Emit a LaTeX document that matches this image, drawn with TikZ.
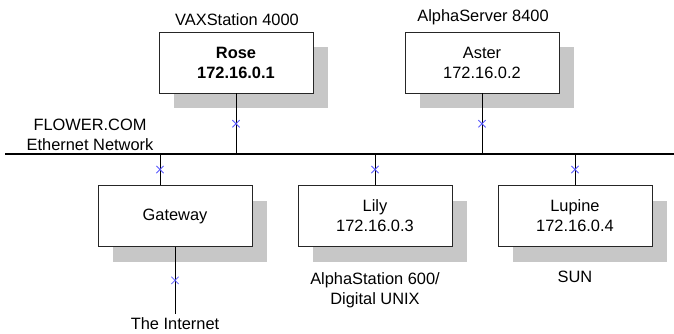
\documentclass[tikz,border=0pt]{standalone}
\usepackage{fontspec}
\setmainfont{Liberation Sans}
\usetikzlibrary{shadows,shapes.misc}

\begin{document}
\begin{tikzpicture}[x=0.03cm,y=-0.03cm,
  host/.style={draw=black!85, line width=0.8pt, fill=white,
    minimum width=4.62cm, minimum height=1.83cm, align=center,
    font=\fontsize{14}{17}\selectfont,
    drop shadow={shadow xshift=0.45cm, shadow yshift=-0.45cm,
      fill=black!22, opacity=1}},
  lbl/.style={align=center, font=\fontsize{14}{17}\selectfont},
  xmark/.style={cross out, draw=blue!65, line width=0.7pt,
    minimum size=5.5pt, inner sep=0pt},
  link/.style={line width=0.7pt},
  bus/.style={line width=2.2pt}]
  \useasboundingbox (0,0) rectangle (674,333);

  % the ethernet bus
  \coordinate (busL) at (5,154);
  \coordinate (busR) at (674,154);
  \draw[bus] (busL) -- (busR);
  \node[lbl] (net) at (90,135) {FLOWER.COM\\Ethernet Network};

  % hosts
  \node[host] (rose) at (236,62.5) {\textbf{Rose}\\\textbf{172.16.0.1}};
  \node[host] (aster) at (482,62.5) {Aster\\172.16.0.2};
  \node[host] (gateway) at (175,216) {Gateway};
  \node[host] (lily) at (375,216) {Lily\\172.16.0.3};
  \node[host] (lupine) at (575,216) {Lupine\\172.16.0.4};

  % machine types
  \node[lbl] (vax) at (237,20) {VAXStation 4000};
  \node[lbl] (alphasrv) at (483,17) {AlphaServer 8400};
  \node[lbl] (alphastn) at (375,290) {AlphaStation 600/\\Digital UNIX};
  \node[lbl] (sun) at (575,277) {SUN};
  \node[lbl] (internet) at (175,324) {The Internet};

  % taps on the bus
  \coordinate (gwtap) at (160,154);
  \draw[link] (rose.south) -- (rose.south |- busL) node[xmark,midway] (xrose) {};
  \draw[link] (aster.south) -- (aster.south |- busL) node[xmark,midway] (xaster) {};
  \draw[link] (gwtap) -- (gwtap |- gateway.north) node[xmark,midway] (xgw) {};
  \draw[link] (lily.north |- busL) -- (lily.north) node[xmark,midway] (xlily) {};
  \draw[link] (lupine.north |- busL) -- (lupine.north) node[xmark,midway] (xlupine) {};
  \draw[link] (gateway.south) -- (internet.north) node[xmark,midway] (xnet) {};
\end{tikzpicture}
\end{document}
